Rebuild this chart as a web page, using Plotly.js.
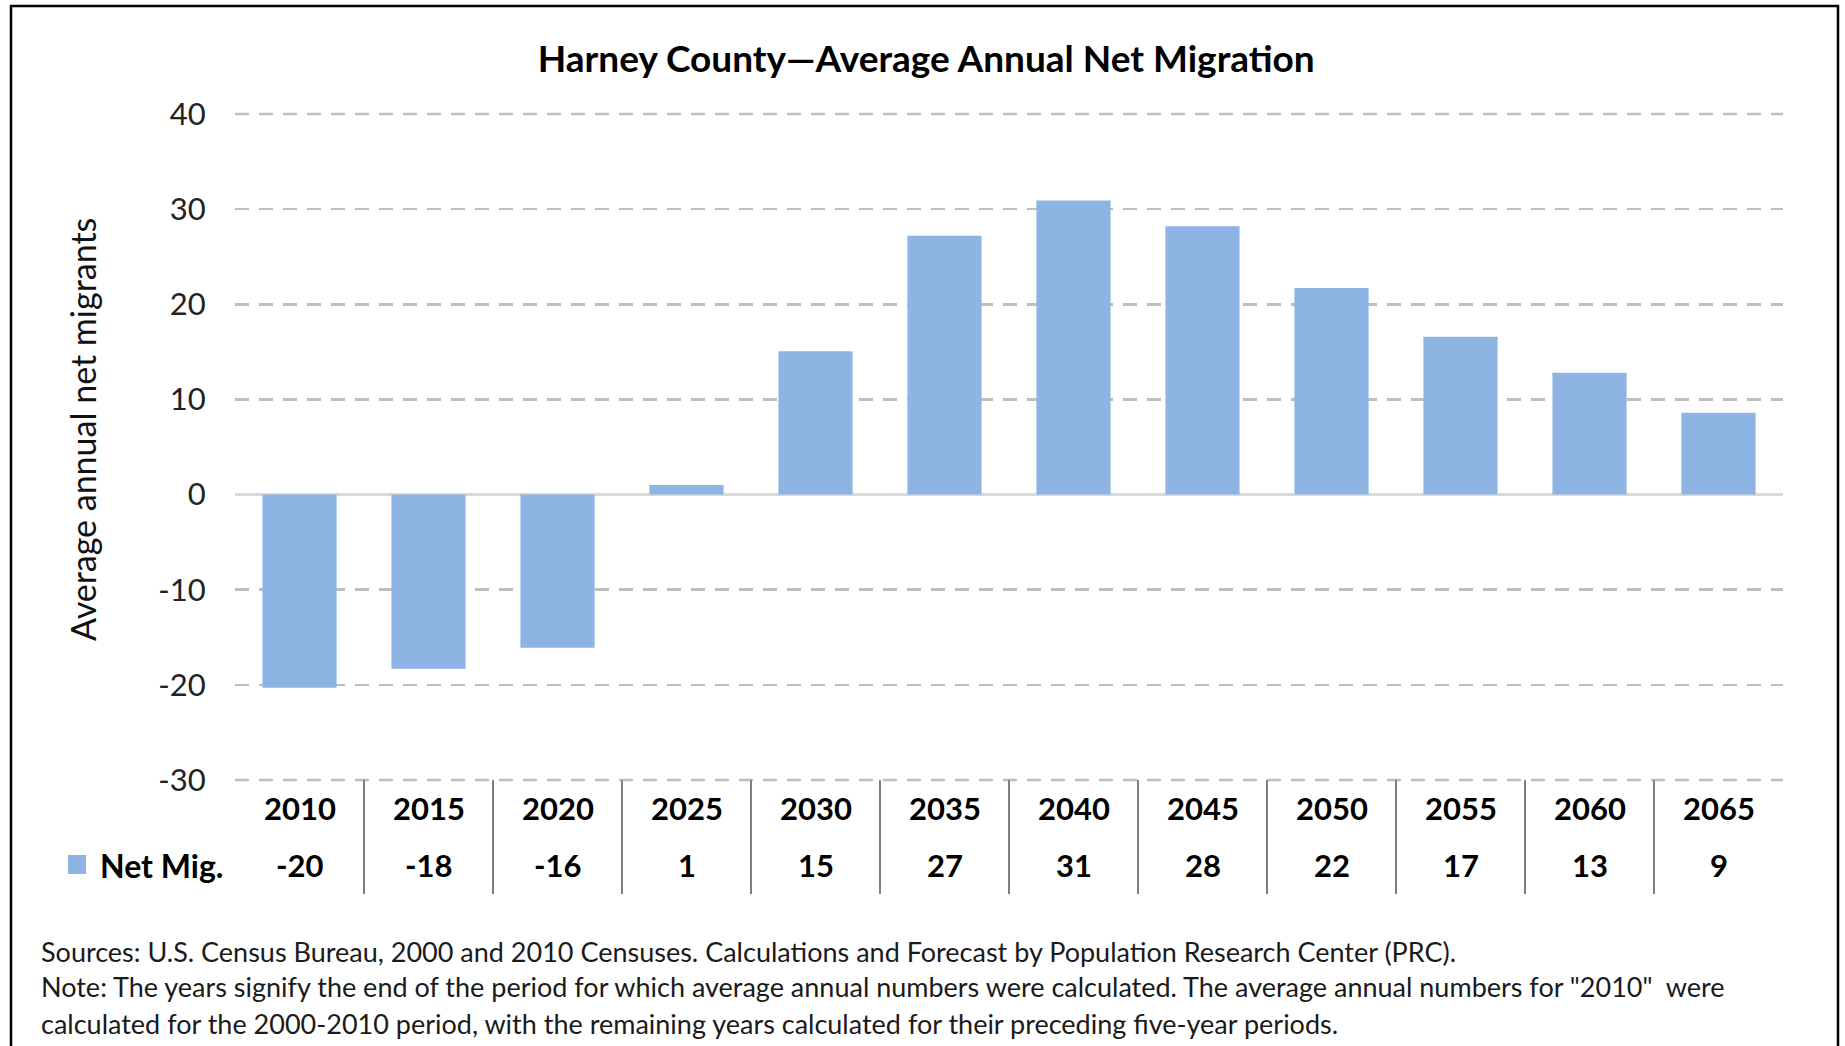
<!DOCTYPE html>
<html>
<head>
<meta charset="utf-8">
<script src="https://cdn.plot.ly/plotly-3.0.1.min.js"></script>
<style>
  html, body { margin: 0; padding: 0; background: #ffffff; }
  #chart { width: 1845px; height: 1046px; }
</style>
</head>
<body>
<div id="chart"></div>
<script>
// ---- data ----
const years = ["2010", "2015", "2020", "2025", "2030", "2035", "2040", "2045", "2050", "2055", "2060", "2065"];
const netMigration = [-20.3, -18.3, -16.1, 1.0, 15.06, 27.2, 30.9, 28.2, 21.7, 16.6, 12.8, 8.6];
const seriesName = "Net Mig.";
const yTicks = [-30, -20, -10, 0, 10, 20, 30, 40];
const yTickText = ["-30", "-20", "-10", "0", "10", "20", "30", "40"];
const chartTitle = "Harney County\u2014Average Annual Net Migration";
const yTitle = "Average annual net migrants";
const footnotes = [
  "Sources: U.S. Census Bureau, 2000 and 2010 Censuses. Calculations and Forecast by Population Research Center (PRC).",
  "Note: The years signify the end of the period for which average annual numbers were calculated. The average annual numbers for \"2010\"  were",
  "calculated for the 2000-2010 period, with the remaining years calculated for their preceding five-year periods."
];

// ---- layout geometry (pixels) ----
const W = 1845, H = 1046;
const mL = 235, mR = 62, mT = 114, mB = 266;
const plotW = W - mL - mR, plotH = H - mT - mB;
const FONT = "Lato, 'Open Sans', 'Noto Sans', sans-serif";
const barColor = "#8EB4E3";
const gridColor = "#bfbfbf", gridDash = "14px,10px", gridWidth = 2.5;
const yRange = [yTicks[0], yTicks[yTicks.length - 1]];

const trace = {
  type: "bar",
  x: years,
  y: netMigration,
  name: seriesName,
  marker: { color: barColor },
  hoverinfo: "x+y"
};

const annotations = [];
// y axis title
annotations.push({
  text: yTitle, textangle: -90, showarrow: false,
  xref: "paper", yref: "paper",
  x: (82 - mL) / plotW, y: (H - mB - 430) / plotH,
  xanchor: "center", yanchor: "middle",
  font: { family: FONT, size: 34, color: "#111" }
});
// data table rows
years.forEach((yr, i) => {
  annotations.push({
    text: "<b>" + yr + "</b>", showarrow: false,
    xref: "x", yref: "paper", x: i, y: 0, yshift: -28,
    xanchor: "center", yanchor: "middle",
    font: { family: FONT, size: 31, color: "#000" }
  });
  annotations.push({
    text: "<b>" + Math.round(netMigration[i]) + "</b>", showarrow: false,
    xref: "x", yref: "paper", x: i, y: 0, yshift: -85,
    xanchor: "center", yanchor: "middle",
    font: { family: FONT, size: 31, color: "#000" }
  });
});
// legend key label
annotations.push({
  text: "<b>" + seriesName + "</b>", showarrow: false,
  xref: "paper", yref: "paper", x: (98 - mL) / plotW, y: 0, yshift: -85,
  xanchor: "left", yanchor: "middle",
  font: { family: FONT, size: 32, color: "#000" }
});
// footnotes
const footY = [951, 986, 1023];
footnotes.forEach((t, i) => {
  annotations.push({
    text: t, showarrow: false,
    xref: "paper", yref: "paper", x: (39 - mL) / plotW, y: 0,
    yshift: -(footY[i] - (H - mB)),
    xanchor: "left", yanchor: "middle",
    font: { family: FONT, size: 27, color: "#1a1a1a" }
  });
});

const shapes = [];
// gridlines at the bottom and top of the value range (Plotly skips edge gridlines)
[0, 1].forEach(p => {
  shapes.push({
    type: "line", xref: "paper", yref: "paper", layer: "below",
    x0: 0, x1: 1, y0: p, y1: p,
    line: { color: gridColor, width: gridWidth, dash: gridDash }
  });
});
// table separators between categories
for (let i = 0; i < years.length - 1; i++) {
  shapes.push({
    type: "line", xref: "x", yref: "paper",
    x0: i + 0.5, x1: i + 0.5,
    ysizemode: "pixel", yanchor: 0, y0: 0, y1: -(894 - (H - mB)),
    line: { color: "#7f7f7f", width: 2 }
  });
}
// legend key square
shapes.push({
  type: "rect", xref: "paper", yref: "paper",
  xsizemode: "pixel", xanchor: 0, x0: 68 - mL, x1: 86 - mL,
  ysizemode: "pixel", yanchor: 0, y0: -(874 - (H - mB)), y1: -(855 - (H - mB)),
  fillcolor: barColor, line: { width: 0 }
});
// outer border
shapes.push({
  type: "rect", xref: "paper", yref: "paper",
  xsizemode: "pixel", xanchor: 0, x0: 11 - mL, x1: 1838 - mL,
  ysizemode: "pixel", yanchor: 1, y0: mT - 6, y1: -(1070 - mT),
  fillcolor: "rgba(0,0,0,0)", line: { color: "#000", width: 2.5 }
});

const layout = {
  width: W, height: H,
  margin: { l: mL, r: mR, t: mT, b: mB, pad: 0 },
  paper_bgcolor: "#ffffff", plot_bgcolor: "#ffffff",
  showlegend: false,
  bargap: 0.425,
  title: {
    text: "<b>" + chartTitle + "</b>",
    xref: "container", x: 0.502, xanchor: "center",
    yref: "container", y: 1 - 59 / H, yanchor: "middle",
    font: { family: FONT, size: 37, color: "#000" }
  },
  xaxis: {
    type: "category",
    showticklabels: false, ticks: "",
    showgrid: false, showline: false, zeroline: false,
    fixedrange: true
  },
  yaxis: {
    range: yRange, tickvals: yTicks, ticktext: yTickText,
    showgrid: true, gridcolor: gridColor, gridwidth: gridWidth, griddash: gridDash,
    zeroline: true, zerolinecolor: "#d9d9d9", zerolinewidth: 2.5,
    showline: false,
    ticks: "outside", ticklen: 22, tickcolor: "rgba(0,0,0,0)",
    tickfont: { family: FONT, size: 31, color: "#222" },
    fixedrange: true
  },
  annotations: annotations,
  shapes: shapes
};

Plotly.newPlot("chart", [trace], layout, { displayModeBar: false, staticPlot: true });
</script>
</body>
</html>
